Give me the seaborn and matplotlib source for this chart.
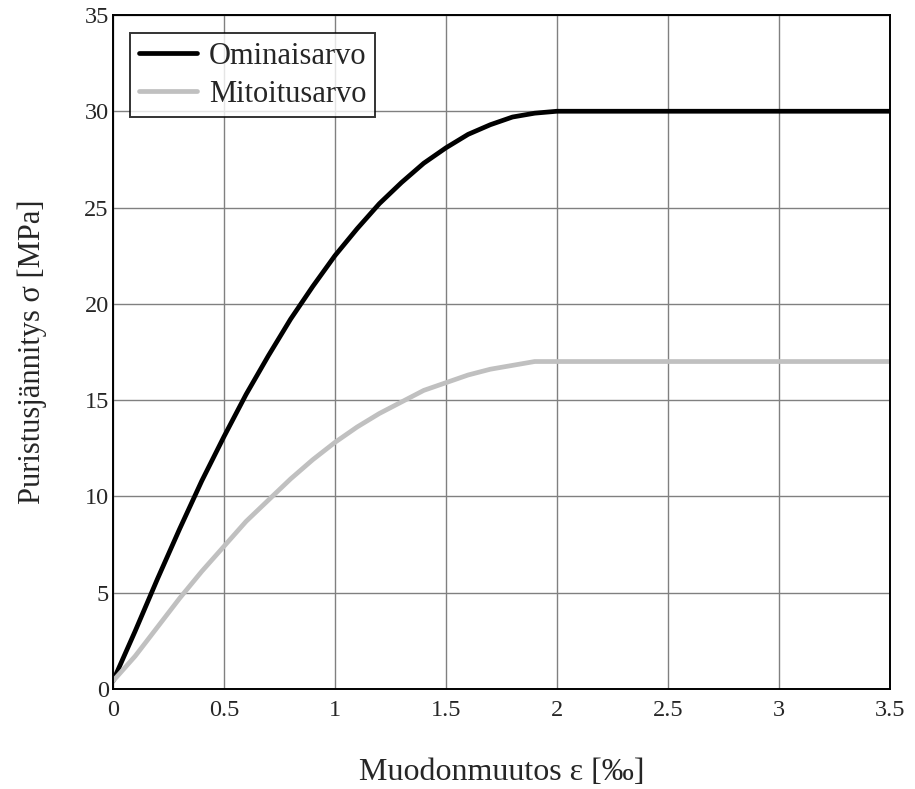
import numpy as np
import pandas as pd
import matplotlib
matplotlib.use("Agg")
import matplotlib.pyplot as plt
import seaborn as sns

# strain [permille] and stress [MPa]
strain = [0.0, 0.1, 0.2, 0.3, 0.4, 0.5, 0.6, 0.7, 0.8, 0.9, 1.0,
          1.1, 1.2, 1.3, 1.4, 1.5, 1.6, 1.7, 1.8, 1.9, 2.0, 3.5]
stress_char = [0.4, 3.0, 5.7, 8.3, 10.8, 13.1, 15.3, 17.3, 19.2, 20.9, 22.5,
               23.9, 25.2, 26.3, 27.3, 28.1, 28.8, 29.3, 29.7, 29.9, 30.0, 30.0]
stress_design = [0.4, 1.7, 3.2, 4.7, 6.1, 7.4, 8.7, 9.8, 10.9, 11.9, 12.8,
                 13.6, 14.3, 14.9, 15.5, 15.9, 16.3, 16.6, 16.8, 17.0, 17.0, 17.0]
labels = ["Ominaisarvo", "Mitoitusarvo"]
xticks = [0, 0.5, 1, 1.5, 2, 2.5, 3, 3.5]
yticks = [0, 5, 10, 15, 20, 25, 30, 35]

df = pd.DataFrame({
    "strain": strain * 2,
    "stress": stress_char + stress_design,
    "sarja": [labels[0]] * len(strain) + [labels[1]] * len(strain),
})

sns.set_style("white")
plt.rcParams["font.family"] = ["Liberation Serif", "DejaVu Serif"]

fig = plt.figure(figsize=(9.15, 7.89), dpi=100)
ax = fig.add_axes([0.1235, 0.127, 0.849, 0.854])

sns.lineplot(data=df, x="strain", y="stress", hue="sarja",
             palette={labels[0]: "black", labels[1]: "#c0c0c0"},
             linewidth=3.4, ax=ax, sort=False)

ax.set_xlim(0, 3.5)
ax.set_ylim(0, 35)
ax.set_xticks(xticks)
ax.set_yticks(yticks)
ax.set_xticklabels(["0", "0.5", "1", "1.5", "2", "2.5", "3", "3.5"])
ax.grid(True, color="#808080", linewidth=1.0)
ax.set_axisbelow(True)
for s in ax.spines.values():
    s.set_color("black")
    s.set_linewidth(1.4)
ax.tick_params(axis="both", labelsize=17.5, length=0)
ax.tick_params(axis="x", pad=8)
ax.tick_params(axis="y", pad=3)

ax.set_xlabel("Muodonmuutos ε [‰]", fontsize=23, labelpad=27)
ax.set_ylabel("Puristusjännitys σ [MPa]", fontsize=22, labelpad=27)

leg = ax.legend(loc="upper left", bbox_to_anchor=(0.022, 0.973), fontsize=22,
                frameon=True, fancybox=False, handlelength=1.9,
                handletextpad=0.4, borderpad=0.28, labelspacing=0.3,
                borderaxespad=0)
leg.get_frame().set_edgecolor("black")
leg.get_frame().set_linewidth(1.4)
for line in leg.get_lines():
    line.set_linewidth(3.4)

fig.savefig("out.png", dpi=100)
